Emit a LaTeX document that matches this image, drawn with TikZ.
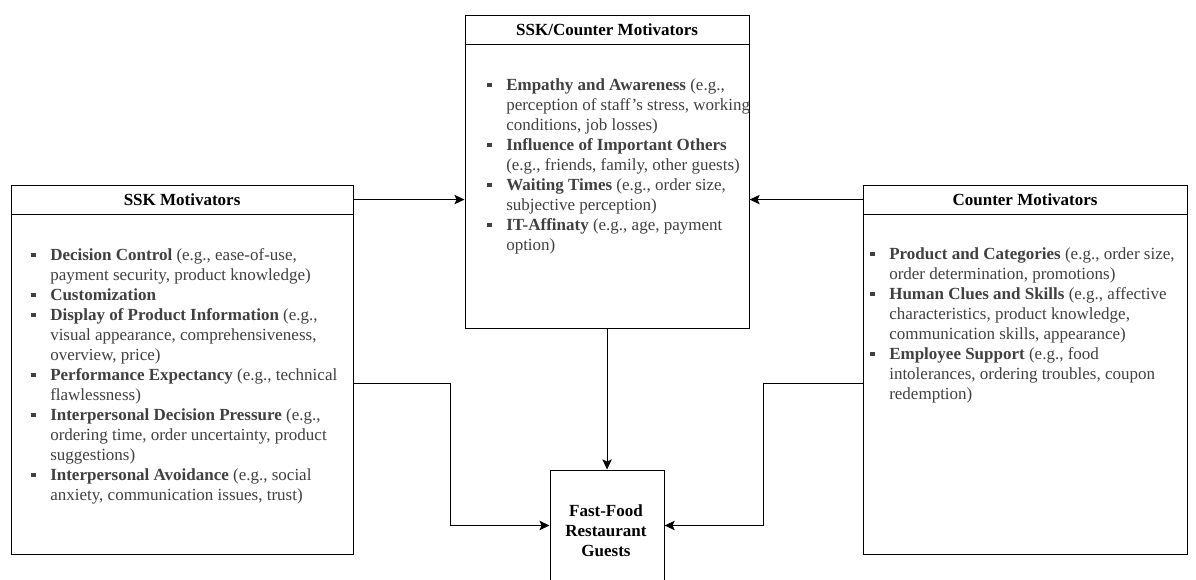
\documentclass[tikz,border=0pt]{standalone}
\usepackage{fontspec}
\setmainfont{Liberation Serif}
\usepackage{xcolor}
\usetikzlibrary{arrows.meta, positioning}

\definecolor{txtgray}{HTML}{404040}
\newcommand{\sq}{\makebox[14.25pt][l]{\rule[2.6pt]{3.2pt}{3.2pt}}}
\newcommand{\itm}[1]{\sq & \textbf{#1}}

\tikzset{
  box/.style={draw, line width=0.85pt, anchor=north west, inner sep=0pt},
  itemlist/.style={anchor=north west, inner sep=0pt, align=left, text=txtgray},
  conn/.style={line width=0.85pt, -{Stealth[length=7.5pt, width=7pt, inset=1.5pt]}},
}

\begin{document}
\begin{tikzpicture}[x=0.75pt, y=-0.75pt, font=\fontsize{12.75}{15}\selectfont]

\useasboundingbox (0, 0) rectangle (1196, 579);

% SSK box (left)
\node[box, minimum width=256.5pt, minimum height=21.75pt] (sskhead) at (10.5, 184.5) {\textbf{SSK Motivators}};
\node[box, minimum width=256.5pt, minimum height=255pt] (sskbody) at (10.5, 213.5) {};
\node[itemlist] (ssklist) at (31, 246) {%
\begin{tabular}{@{}l@{}l@{}}
\itm{Decision Control} (e.g., ease-of-use,\\
 & payment security, product knowledge)\\
\itm{Customization}\\
\itm{Display of Product Information} (e.g.,\\
 & visual appearance, comprehensiveness,\\
 & overview, price)\\
\itm{Performance Expectancy} (e.g., technical\\
 & flawlessness)\\
\itm{Interpersonal Decision Pressure} (e.g.,\\
 & ordering time, order uncertainty, product\\
 & suggestions)\\
\itm{Interpersonal Avoidance} (e.g., social\\
 & anxiety, communication issues, trust)
\end{tabular}};

% SSK/Counter box (middle)
\node[box, minimum width=213pt, minimum height=21.75pt] (bothhead) at (464.5, 14.5) {\textbf{SSK/Counter Motivators}};
\node[box, minimum width=213pt, minimum height=213pt] (bothbody) at (464.5, 43.5) {};
\node[itemlist] (bothlist) at (487, 76) {%
\begin{tabular}{@{}l@{}l@{}}
\itm{Empathy and Awareness} (e.g.,\\
 & perception of staff's stress, working\\
 & conditions, job losses)\\
\itm{Influence of Important Others}\\
 & (e.g., friends, family, other guests)\\
\itm{Waiting Times} (e.g., order size,\\
 & subjective perception)\\
\itm{IT-Affinaty} (e.g., age, payment\\
 & option)
\end{tabular}};

% Counter box (right)
\node[box, minimum width=243pt, minimum height=21.75pt] (cnthead) at (862.5, 184.5) {\textbf{Counter Motivators}};
\node[box, minimum width=243pt, minimum height=255pt] (cntbody) at (862.5, 213.5) {};
\node[itemlist] (cntlist) at (870, 245) {%
\begin{tabular}{@{}l@{}l@{}}
\itm{Product and Categories} (e.g., order size,\\
 & order determination, promotions)\\
\itm{Human Clues and Skills} (e.g., affective\\
 & characteristics, product knowledge,\\
 & communication skills, appearance)\\
\itm{Employee Support} (e.g., food\\
 & intolerances, ordering troubles, coupon\\
 & redemption)
\end{tabular}};

% Guests box (bottom)
\node[box, minimum width=85.5pt, minimum height=90pt] (guests) at (549.5, 469.5) {};
\node[align=center, inner sep=0pt] (gueststxt) at (606, 531) {\textbf{Fast-Food}\\\textbf{Restaurant}\\\textbf{Guests}};

% Connectors
\coordinate (lbend) at (450.5, 383.5);
\coordinate (rbend) at (763.5, 383.5);
\coordinate (gin) at (606, 525.5);
\draw[conn] (sskhead.east) -- (sskhead.east -| bothbody.west);
\draw[conn] (cnthead.west) -- (cnthead.west -| bothbody.east);
\draw[conn] (bothbody.south) -- (bothbody.south |- guests.north);
\draw[conn] (sskbody.east |- lbend) -- (lbend) |- (guests.west |- gin);
\draw[conn] (cntbody.west |- rbend) -- (rbend) |- (guests.east |- gin);

\end{tikzpicture}
\end{document}
